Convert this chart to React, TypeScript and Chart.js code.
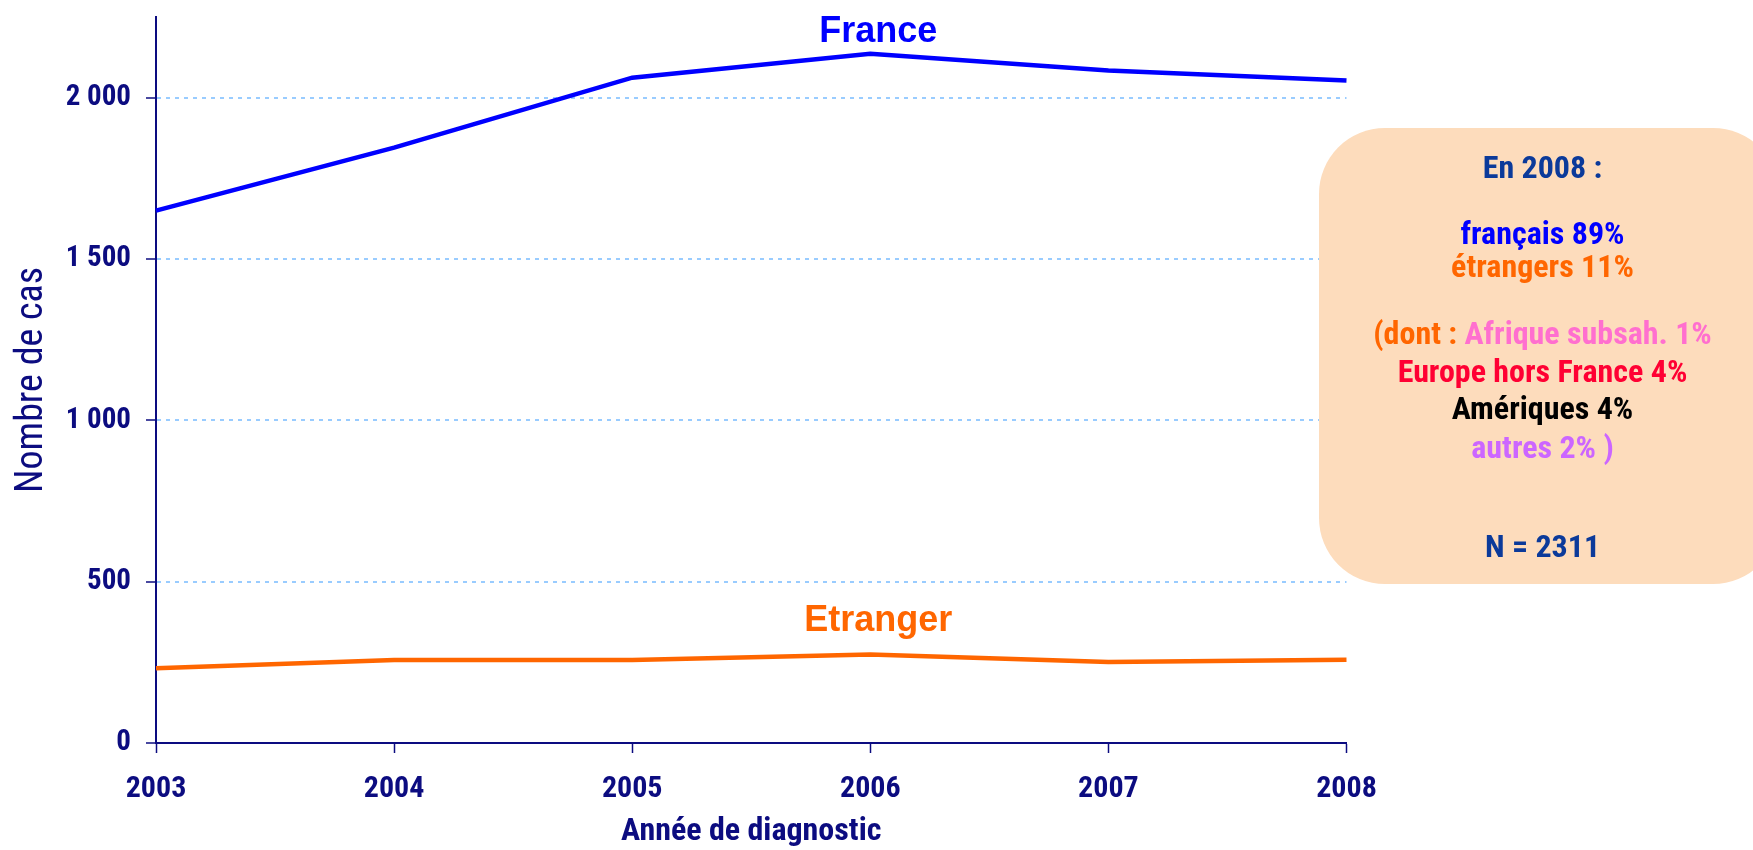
import React, { useEffect, useRef } from 'react';
import { Chart, registerables } from 'chart.js';

Chart.register(...registerables);

// ---- data ----
const years = ['2003', '2004', '2005', '2006', '2007', '2008'];
const franceCases = [1650, 1845, 2062, 2136, 2084, 2053];
const etrangerCases = [232, 257, 257, 274, 251, 258];
const yTickValues = [0, 500, 1000, 1500, 2000];
const seriesNames = ['France', 'Etranger'];

// annotation text (lines of coloured segments)
const noteLines: { text: string; tone: string }[][] = [
  [{ text: 'En 2008 :', tone: 'navy' }],
  [{ text: 'français 89%', tone: 'blue' }],
  [{ text: 'étrangers 11%', tone: 'orange' }],
  [
    { text: '(dont : ', tone: 'orange' },
    { text: 'Afrique subsah. 1%', tone: 'pink' },
  ],
  [{ text: 'Europe hors France 4%', tone: 'red' }],
  [{ text: 'Amériques 4%', tone: 'black' }],
  [{ text: 'autres 2% )', tone: 'violet' }],
  [{ text: 'N = 2311', tone: 'navy' }],
];

// ---- styles ----
const NAVY = '#0c0c80';
const NARROW = '"Roboto Condensed", "Liberation Sans Narrow", "DejaVu Sans Condensed", sans-serif';
const WIDE = '"Liberation Sans", Arial, sans-serif';
const TONES: Record<string, string> = {
  navy: '#0b3a9a',
  blue: '#0000ff',
  orange: '#ff6600',
  pink: '#ff6fcf',
  red: '#ff0033',
  black: '#000000',
  violet: '#cc66ff',
};
const NOTE_BASELINES = [178, 244, 277, 344, 382, 419, 458, 557];

const overlayPlugin = {
  id: 'overlay',
  afterDraw(chart: any) {
    const { ctx } = chart;
    const xs = chart.scales.x;
    const ys = chart.scales.y;
    const ds = chart.data.datasets;
    ctx.save();

    // series labels
    ctx.font = `bold 36px ${WIDE}`;
    ctx.textAlign = 'center';
    ctx.textBaseline = 'alphabetic';
    ctx.fillStyle = ds[0].borderColor;
    ctx.fillText(ds[0].label, xs.getPixelForValue(3) + 8, ys.getPixelForValue(ds[0].data[3]) - 12);
    ctx.fillStyle = ds[1].borderColor;
    ctx.fillText(ds[1].label, xs.getPixelForValue(3) + 8, ys.getPixelForValue(ds[1].data[3]) - 24);

    // annotation box
    const bx = 1319, by = 128, bw = 460, bh = 456, r = 66;
    ctx.fillStyle = '#fddcbc';
    ctx.beginPath();
    ctx.roundRect(bx, by, bw, bh, r);
    ctx.fill();

    const cx = 1542.5;
    ctx.font = `bold 32px ${NARROW}`;
    ctx.textAlign = 'left';
    noteLines.forEach((line, i) => {
      const total = line.reduce((s, seg) => s + ctx.measureText(seg.text).width, 0);
      let x = cx - total / 2;
      line.forEach((seg) => {
        ctx.fillStyle = TONES[seg.tone];
        ctx.fillText(seg.text, x, NOTE_BASELINES[i]);
        x += ctx.measureText(seg.text).width;
      });
    });
    ctx.restore();
  },
};

const fmt = (v: number) => String(v).replace(/\B(?=(\d{3})+(?!\d))/g, ' ');

export default function App() {
  const ref = useRef<HTMLCanvasElement>(null);

  useEffect(() => {
    document.body.style.margin = '0';
    if (!ref.current) return;
    const chart = new Chart(ref.current, {
      type: 'line',
      data: {
        labels: years,
        datasets: [
          {
            label: seriesNames[0],
            data: franceCases,
            borderColor: '#0000ff',
            backgroundColor: '#0000ff',
            borderWidth: 4.5,
            pointRadius: 0,
            tension: 0,
          },
          {
            label: seriesNames[1],
            data: etrangerCases,
            borderColor: '#ff6600',
            backgroundColor: '#ff6600',
            borderWidth: 4.5,
            pointRadius: 0,
            tension: 0,
          },
        ],
      },
      options: {
        responsive: false,
        animation: false,
        layout: { padding: { top: 17, right: 406.5, left: 0, bottom: 0 } },
        plugins: {
          legend: { display: false },
          tooltip: { enabled: false },
        },
        scales: {
          x: {
            type: 'category',
            offset: false,
            afterFit: (s: any) => {
              s.height = 107;
              s.paddingLeft = 0;
              s.paddingRight = 0;
            },
            grid: {
              drawOnChartArea: false,
              drawTicks: true,
              tickLength: 10,
              tickColor: NAVY,
              tickWidth: 1.5,
            },
            border: { color: NAVY, width: 2, z: 1 },
            ticks: {
              color: NAVY,
              font: { family: NARROW, size: 30, weight: 'bold', lineHeight: 1.2 },
              padding: 18,
              maxRotation: 0,
              autoSkip: false,
            },
            title: {
              display: true,
              text: 'Année de diagnostic',
              color: NAVY,
              font: { family: NARROW, size: 32, weight: 'bold', lineHeight: 1 },
              padding: { top: 0, bottom: 2 },
            },
          },
          y: {
            min: 0,
            max: 2250,
            afterFit: (s: any) => {
              s.width = 156;
              s.paddingTop = 0;
              s.paddingBottom = 0;
            },
            afterBuildTicks: (s: any) => {
              s.ticks = yTickValues.map((v) => ({ value: v }));
            },
            grid: {
              color: (c: any) => (c.tick && c.tick.value === 0 ? 'rgba(0,0,0,0)' : '#99ccff'),
              lineWidth: 2,
              drawTicks: true,
              tickLength: 10,
              tickColor: NAVY,
              tickWidth: 1.5,
            },
            border: { color: NAVY, width: 2, dash: [4, 5] },
            ticks: {
              color: NAVY,
              font: { family: NARROW, size: 29, weight: 'bold', lineHeight: 1.2 },
              padding: 15,
              callback: (v: any) => fmt(Number(v)),
            },
            title: {
              display: true,
              text: 'Nombre de cas',
              color: NAVY,
              font: { family: NARROW, size: 38, weight: 'normal', lineHeight: 1.2 },
              padding: { top: 10, bottom: 0 },
            },
          },
        },
      },
      plugins: [overlayPlugin],
    } as any);
    return () => chart.destroy();
  }, []);

  return (
    <div style={{ position: 'absolute', left: 0, top: 0, width: 1753, height: 850, background: '#fff' }}>
      <canvas ref={ref} width={1753} height={850} style={{ display: 'block' }} />
    </div>
  );
}
